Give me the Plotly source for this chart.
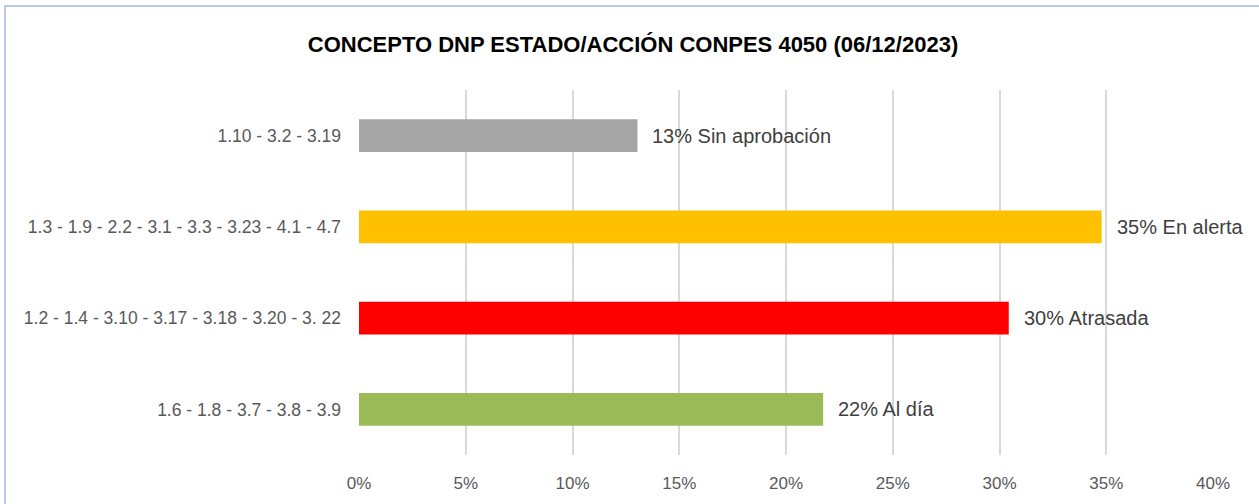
import plotly.graph_objects as go

categories = [
    "1.10 - 3.2 - 3.19",
    "1.3 - 1.9 - 2.2 - 3.1 - 3.3 - 3.23 - 4.1 - 4.7",
    "1.2 - 1.4 - 3.10 - 3.17 - 3.18 - 3.20 - 3. 22",
    "1.6 - 1.8 - 3.7 - 3.8 - 3.9",
]
values = [3/23, 8/23, 7/23, 5/23]
estados = ["Sin aprobación", "En alerta", "Atrasada", "Al día"]
colors = ["#A5A5A5", "#FFC000", "#FF0000", "#9BBB59"]
x_ticks = [0, 0.05, 0.10, 0.15, 0.20, 0.25, 0.30, 0.35, 0.40]

labels = [f"{round(v*100)}% {e}" for v, e in zip(values, estados)]

FONT = "Liberation Sans, Arial, sans-serif"

fig = go.Figure(go.Bar(
    y=categories, x=values, orientation="h",
    marker=dict(color=colors, line=dict(width=0)),
    width=0.36,
    hoverinfo="x+y",
))

for v, c, lab in zip(values, categories, labels):
    fig.add_annotation(x=v, y=c, text=lab, showarrow=False, xanchor="left",
                       yanchor="middle", xshift=13,
                       font=dict(size=20, color="#404040", family=FONT))

fig.update_layout(
    width=1259, height=504,
    margin=dict(l=359, r=46, t=90, b=49, autoexpand=False),
    paper_bgcolor="white", plot_bgcolor="white",
    title=dict(text="<b>CONCEPTO DNP ESTADO/ACCIÓN CONPES 4050 (06/12/2023)</b>",
               x=(308 + 958) / 2 / 1259, xanchor="center", y=1 - 44 / 504, yanchor="middle",
               font=dict(size=22, color="black", family=FONT)),
    xaxis=dict(range=[0, 0.40], tickvals=x_ticks, tickformat=".0%",
               showgrid=True, gridcolor="#D9D9D9", gridwidth=2, zeroline=False,
               showline=False, ticks="", ticklabelstandoff=16, automargin=False,
               tickfont=dict(size=17, color="#595959", family=FONT)),
    yaxis=dict(autorange="reversed", showgrid=False, showline=False, ticks="",
               ticklabelstandoff=17, automargin=False,
               tickfont=dict(size=17.5, color="#595959", family=FONT)),
    showlegend=False,
    shapes=[dict(type="rect", xref="paper", yref="paper",
                 x0=-354/854, x1=1.0 + 80/854, y0=-80/365, y1=1.0 + 84/365,
                 line=dict(color="#9DB9E6", width=1.5), fillcolor="rgba(0,0,0,0)",
                 layer="below")],
)

fig.write_html("out.html", config={"displayModeBar": False},
               post_script="document.body.style.margin='0';document.body.style.overflow='hidden';")
